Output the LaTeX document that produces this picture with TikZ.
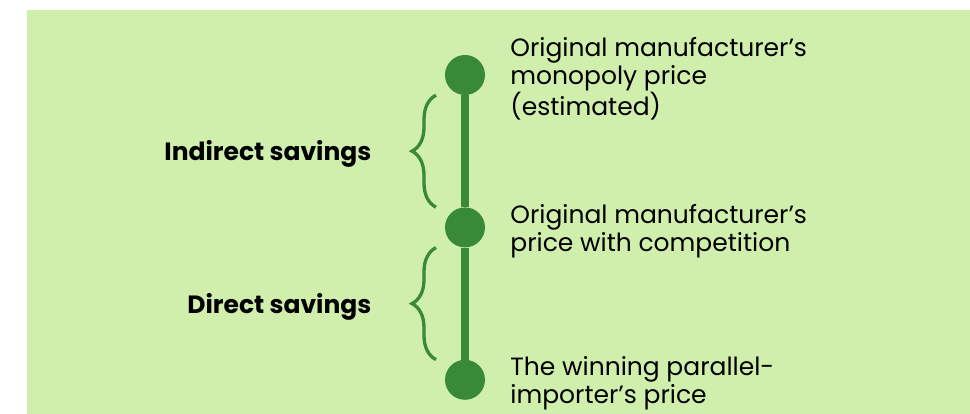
\documentclass[tikz,border=0pt]{standalone}
\usepackage{fontspec}
\setmainfont{Poppins}
\usetikzlibrary{positioning, calc, decorations.pathreplacing}
\definecolor{bggreen}{RGB}{208,239,173}
\definecolor{dkgreen}{RGB}{56,137,56}

\begin{document}
\begin{tikzpicture}[x=1pt, y=-1pt, node distance = 112pt and 25pt,
  dot/.style={circle, fill=dkgreen, minimum size=40pt, inner sep=0pt},
  stem/.style={draw=dkgreen, line width=8pt},
  savebrace/.style={draw=dkgreen, line width=3.3pt, decorate, decoration={brace, amplitude=24pt}},
  pricelbl/.style={anchor=west, align=left, inner sep=0pt, yshift=-3.5pt, font=\fontsize{25}{28}\selectfont},
  savelbl/.style={left=63pt, inner sep=0pt, yshift=-3pt, font=\fontsize{25}{28}\selectfont\bfseries}]
\useasboundingbox (0,0) rectangle (970,414);
\fill[bggreen] (27,10) rectangle (970,414);
%
\node (c1) [dot] at (465,75) {};
\foreach \i [count=\xi from 1] in {2,3}
  \node (c\i) [dot, below=of c\xi] {};
%
\draw[stem] (c1) -- (c2);
\draw[stem] (c2) -- (c3);
%
\node (p1) [pricelbl, right=of c1] {Original manufacturer’s\\monopoly price\\(estimated)};
\node (p2) [pricelbl, right=of c2] {Original manufacturer’s\\price with competition};
\node (p3) [pricelbl, right=of c3] {The winning parallel-\\importer’s price};
%
\draw[savebrace] ([xshift=-29pt]c2.north) -- node (s1) [savelbl] {Indirect savings} ([xshift=-29pt]c1.south);
\draw[savebrace] ([xshift=-29pt]c3.north) -- node (s2) [savelbl] {Direct savings} ([xshift=-29pt]c2.south);
\end{tikzpicture}
\end{document}
